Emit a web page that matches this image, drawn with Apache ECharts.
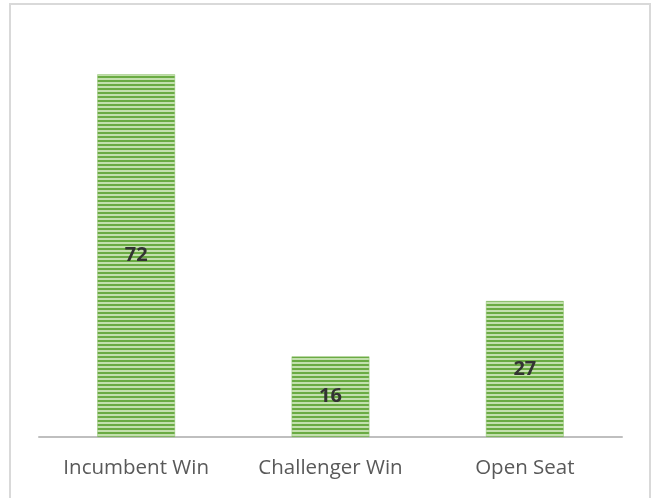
<!DOCTYPE html>
<html>
<head>
<meta charset="utf-8">
<script src="https://cdn.jsdelivr.net/npm/echarts@6/dist/echarts.min.js"></script>
<style>
  html, body { margin: 0; padding: 0; background: #ffffff; }
  #chart { width: 656px; height: 498px; }
</style>
</head>
<body>
<div id="chart"></div>
<script>
// Race outcome counts
const categories = ['Incumbent Win', 'Challenger Win', 'Open Seat'];
const seatCounts = [72, 16, 27];

// Horizontal stripe fill for the bars
function stripePattern() {
  const c = document.createElement('canvas');
  c.width = 8;
  c.height = 4;
  const ctx = c.getContext('2d');
  ctx.fillStyle = '#c3e0ae';
  ctx.fillRect(0, 0, 8, 4);
  ctx.fillStyle = '#6aab43';
  ctx.fillRect(0, 0, 8, 2);
  return c;
}

const chart = echarts.init(document.getElementById('chart'), null, { renderer: 'canvas' });

chart.setOption({
  backgroundColor: '#ffffff',
  animation: false,
  graphic: [{
    type: 'rect',
    shape: { x: 10, y: 4, width: 640, height: 520 },
    style: { fill: 'none', stroke: '#d9d9d9', lineWidth: 2 },
    silent: true
  }],
  grid: { left: 39, right: 34, top: 34, bottom: 61 },
  xAxis: {
    type: 'category',
    data: categories,
    axisLine: { lineStyle: { color: '#bfbfbf', width: 2 } },
    axisTick: { show: false },
    axisLabel: {
      color: '#595959',
      fontFamily: 'Open Sans',
      fontSize: 20.5,
      margin: 21
    }
  },
  yAxis: {
    type: 'value',
    min: 0,
    max: 80,
    show: false,
    splitLine: { show: false }
  },
  series: [{
    type: 'bar',
    data: seatCounts,
    barWidth: '40%',
    itemStyle: {
      color: { image: stripePattern(), repeat: 'repeat' },
      borderColor: '#8cc06a',
      borderWidth: 0.5
    },
    label: {
      show: true,
      position: 'inside',
      color: '#333333',
      fontFamily: 'Open Sans',
      fontWeight: 'bold',
      fontSize: 20
    }
  }]
});
</script>
</body>
</html>
